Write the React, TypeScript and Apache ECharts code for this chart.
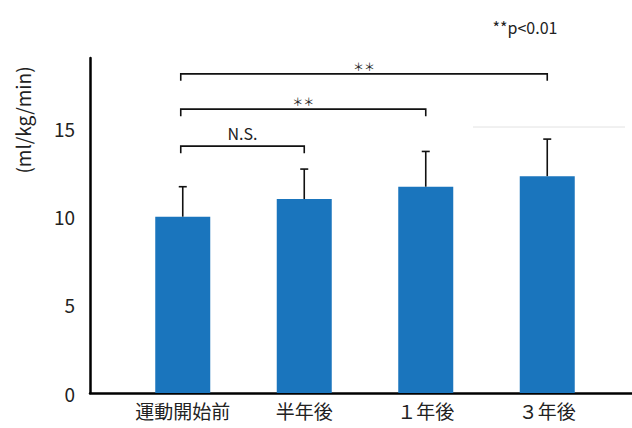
import React, { useEffect, useRef } from "react";
import * as echarts from "echarts";

const categories = ["運動開始前", "半年後", "１年後", "３年後"];
const means = [10.0, 11.0, 11.7, 12.3];
const sds = [1.7, 1.7, 2.0, 2.1];
const yTicks = { min: 0, max: 19, interval: 5 };
const bracketStart = [0, 0, 0];
const bracketEnd = [1, 2, 3];
const bracketLevel = [14.0, 16.1, 18.1];
const bracketLabels = ["N.S.", "＊＊", "＊＊"];

const FONT = "'Noto Sans CJK JP', 'Noto Sans', sans-serif";

export default function App() {
  const ref = useRef<HTMLDivElement>(null);
  useEffect(() => {
    if (!ref.current) return;
    const chart = echarts.init(ref.current, null, { renderer: "svg" });
    const option: any = {
      animation: false,
      backgroundColor: "#ffffff",
      textStyle: { fontFamily: FONT },
      grid: [
        { left: 122, right: 24, top: 58, bottom: 35 },
        { left: 90, right: 0, top: 58, bottom: 35 },
      ],
      xAxis: [
        {
          type: "category",
          gridIndex: 0,
          data: categories,
          axisLine: { show: false },
          axisTick: { show: false },
          axisLabel: { color: "#222", fontSize: 19, margin: 8, interval: 0, fontFamily: FONT },
        },
        {
          type: "value",
          gridIndex: 1,
          min: 0,
          max: 1,
          axisLine: { show: true, lineStyle: { color: "#000", width: 2.5 } },
          axisTick: { show: false },
          axisLabel: { show: false },
          splitLine: { show: false },
        },
      ],
      yAxis: [
        {
          type: "value",
          gridIndex: 0,
          min: yTicks.min,
          max: yTicks.max,
          interval: yTicks.interval,
          offset: 32,
          axisLine: { show: true, lineStyle: { color: "#000", width: 2.5 } },
          axisTick: { show: false },
          splitLine: { show: false },
          axisLabel: {
            color: "#222",
            fontSize: 19,
            margin: 15,
            showMaxLabel: false,
            fontFamily: FONT,
          },
        },
        {
          type: "value",
          gridIndex: 1,
          show: false,
          min: 0,
          max: 1,
        },
      ],
      series: [
        {
          type: "bar",
          xAxisIndex: 0,
          yAxisIndex: 0,
          data: means,
          barWidth: 55,
          itemStyle: { color: "#1a75bd" },
        },
        {
          type: "custom",
          xAxisIndex: 0,
          yAxisIndex: 0,
          clip: false,
          z: 5,
          data: means.map((m, i) => [i, m, sds[i]]),
          renderItem: (params: any, api: any) => {
            const i = api.value(0);
            const m = api.value(1);
            const s = api.value(2);
            const base = api.coord([i, m]);
            const top = api.coord([i, m + s]);
            const style = { stroke: "#111", lineWidth: 1.6 };
            return {
              type: "group",
              children: [
                { type: "line", shape: { x1: base[0], y1: base[1], x2: top[0], y2: top[1] }, style },
                { type: "line", shape: { x1: top[0] - 4, y1: top[1], x2: top[0] + 4, y2: top[1] }, style },
              ],
            };
          },
        },
        {
          type: "custom",
          xAxisIndex: 0,
          yAxisIndex: 0,
          clip: false,
          z: 5,
          data: bracketStart.map((s, i) => [s, bracketEnd[i], bracketLevel[i]]),
          renderItem: (params: any, api: any) => {
            const a = api.coord([api.value(0), api.value(2)]);
            const b = api.coord([api.value(1), api.value(2)]);
            const x0 = a[0] - 2;
            const x1 = b[0];
            const y = a[1];
            const label = bracketLabels[params.dataIndex];
            const isNS = label === "N.S.";
            return {
              type: "group",
              children: [
                {
                  type: "polyline",
                  shape: { points: [[x0, y + 7], [x0, y], [x1, y], [x1, y + 7]] },
                  style: { stroke: "#111", lineWidth: 1.6, fill: null },
                },
                {
                  type: "text",
                  x: (x0 + x1) / 2,
                  y: isNS ? y - 13 : y - 8,
                  style: {
                    text: label,
                    fill: "#222",
                    font: isNS ? `16px ${FONT}` : `11px ${FONT}`,
                    textAlign: "center",
                    textVerticalAlign: "middle",
                  },
                },
              ],
            };
          },
        },
      ],
      graphic: [
        {
          type: "text",
          x: 22,
          y: 120,
          rotation: Math.PI / 2,
          style: {
            text: "(ml/kg/min)",
            fill: "#222",
            font: `19px ${FONT}`,
            textAlign: "center",
            textVerticalAlign: "middle",
          },
        },
        {
          type: "text",
          x: 525,
          y: 27,
          style: {
            text: "**p<0.01",
            fill: "#222",
            font: `16px ${FONT}`,
            textAlign: "center",
            textVerticalAlign: "middle",
          },
        },
        {
          type: "line",
          shape: { x1: 473, y1: 127, x2: 625, y2: 127 },
          style: { stroke: "#e2e2e2", lineWidth: 1 },
        },
      ],
    };
    chart.setOption(option);
    return () => chart.dispose();
  }, []);
  return (
    <div
      ref={ref}
      style={{ position: "fixed", left: 0, top: 0, width: 632, height: 428 }}
    />
  );
}
